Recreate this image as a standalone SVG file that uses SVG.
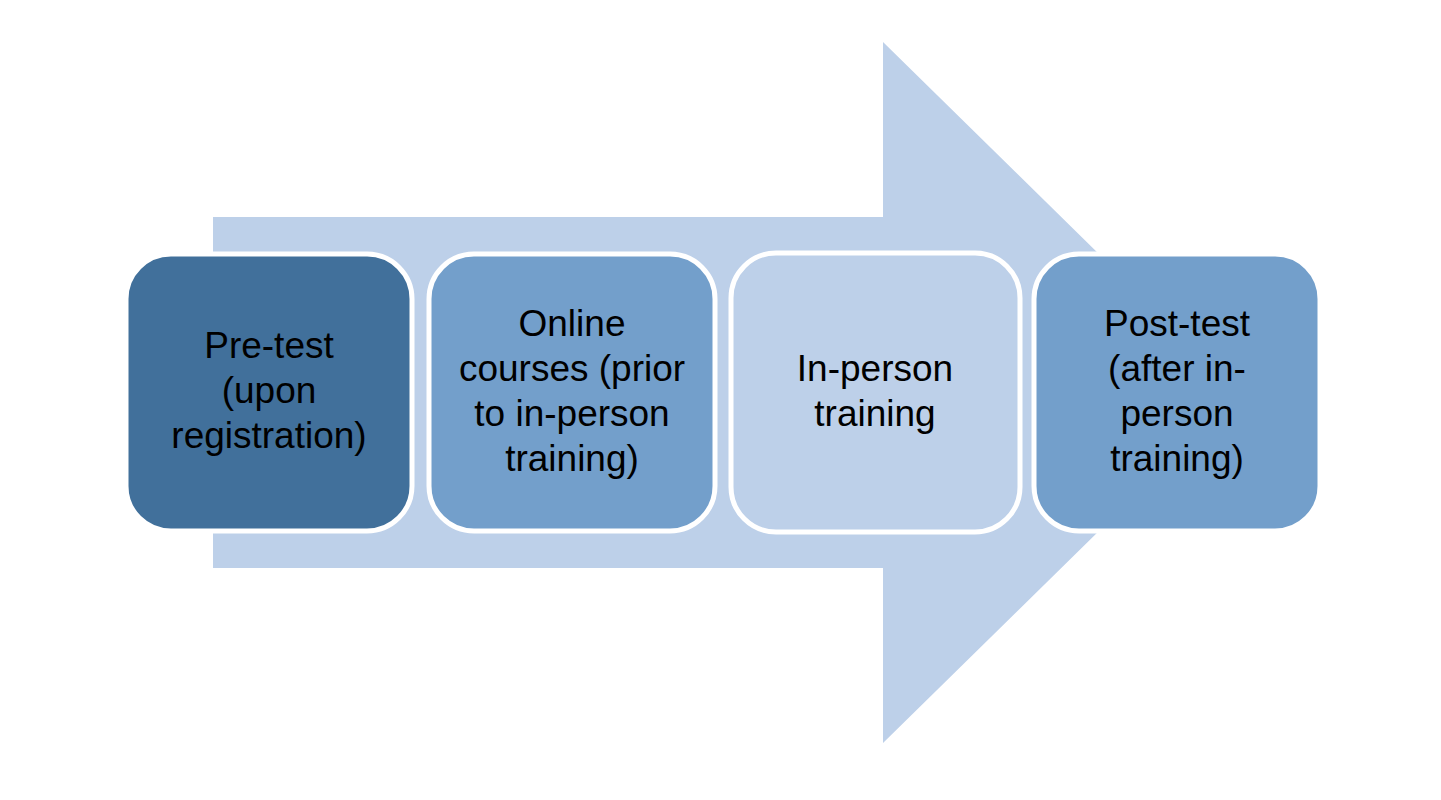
<svg xmlns="http://www.w3.org/2000/svg" width="1441" height="800" viewBox="0 0 1441 800">
<style>
.box{stroke:#ffffff;stroke-width:5}
.lbl{font-family:"Liberation Sans",Arial,sans-serif;font-size:37px;fill:#000000;text-anchor:middle}
</style>
<rect width="1441" height="800" fill="#ffffff"/>
<g id="arrow">
<polygon points="213,217 883,217 883,42 1240,392.5 883,743 883,568 213,568" fill="#bdd0e9"/>
</g>
<g id="connectors"></g>
<g id="node1">
<rect class="box" x="126" y="254" width="286" height="277" rx="45" fill="#41709b"/>
<text class="lbl" x="269" y="358">Pre-test</text>
<text class="lbl" x="269" y="403">(upon</text>
<text class="lbl" x="269" y="448">registration)</text>
</g>
<g id="node2">
<rect class="box" x="429" y="254" width="286" height="277" rx="45" fill="#739fcb"/>
<text class="lbl" x="572" y="336">Online</text>
<text class="lbl" x="572" y="381">courses (prior</text>
<text class="lbl" x="572" y="426">to in-person</text>
<text class="lbl" x="572" y="471">training)</text>
</g>
<g id="node3">
<rect class="box" x="731" y="253" width="289" height="279" rx="45" fill="#bdd0e9"/>
<text class="lbl" x="875" y="381">In-person</text>
<text class="lbl" x="875" y="426">training</text>
</g>
<g id="node4">
<rect class="box" x="1034" y="254" width="286" height="277" rx="45" fill="#739fcb"/>
<text class="lbl" x="1177" y="336">Post-test</text>
<text class="lbl" x="1177" y="381">(after in-</text>
<text class="lbl" x="1177" y="426">person</text>
<text class="lbl" x="1177" y="471">training)</text>
</g>
</svg>
